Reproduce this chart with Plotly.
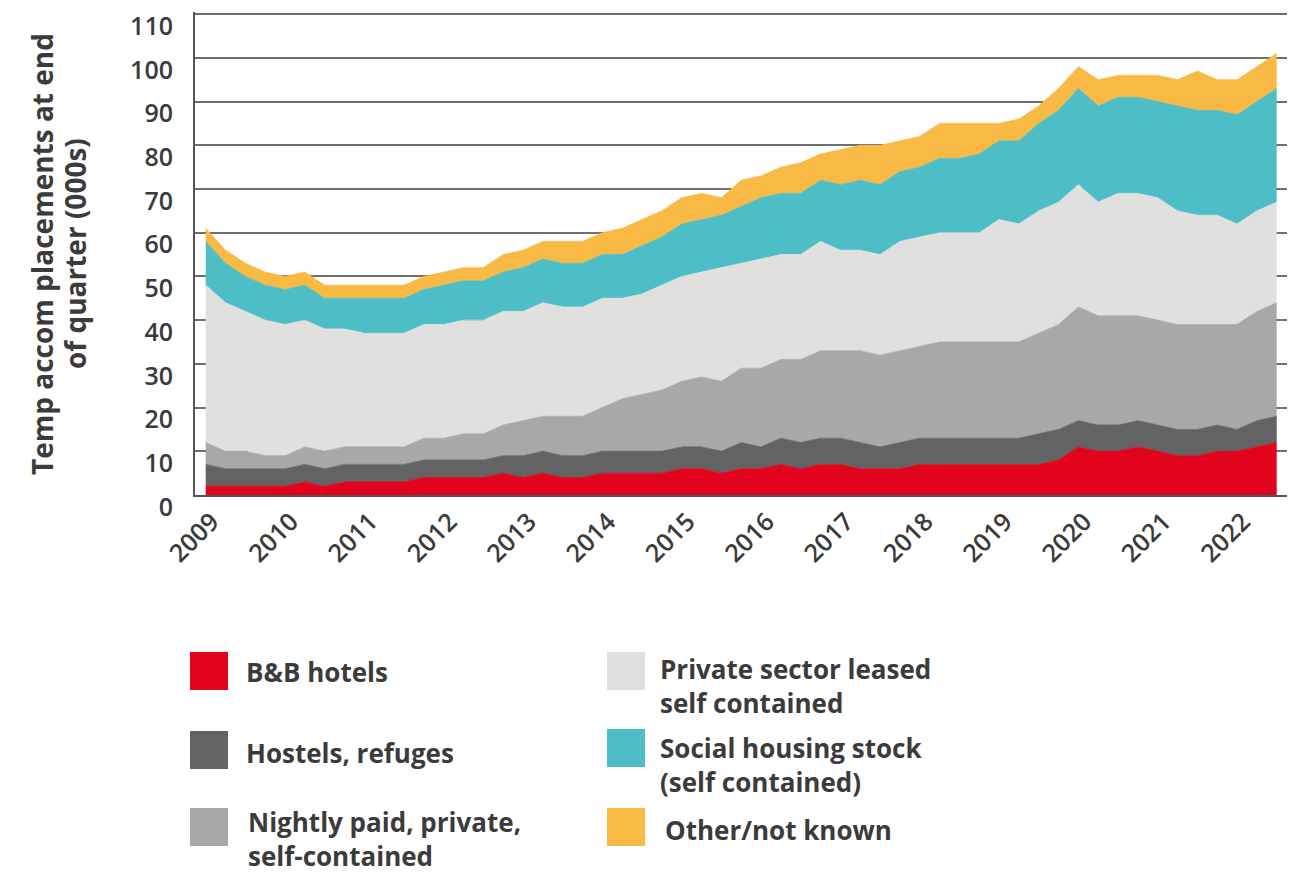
import plotly.graph_objects as go

# ---- data (thousands of placements, end of quarter) ----
years = list(range(2009, 2023))
quarters = [f"{y} Q{q}" for y in years for q in (1, 2, 3, 4)][:55]

bb_hotels = [2,2,2,2,2,3,2,3,3,3,3,4,4,4, 4,5,4,5,4,4,5,5,5,5,6,6,5,6,
             6,7,6,7,7,6,6,6,7,7,7,7,7, 7,7,8,11,10,10,11,10,9,9,10,10,11,12]
hostels = [5,4,4,4,4,4,4,4,4,4,4,4,4,4, 4,4,5,5,5,5,5,5,5,5,5,5,5,6,
           5,6,6,6,6,6,5,6,6,6,6,6,6, 6,7,7,6,6,6,6,6,6,6,6,5,6,6]
nightly_paid = [5,4,4,3,3,4,4,4,4,4,4,5,5,6, 6,7,8,8,9,9,10,12,13,14,15,16,16,17,
                18,18,19,20,20,21,21,21,21,22,22,22,22, 22,23,24,26,25,25,24,24,24,24,23,24,25,26]
private_leased = [36,34,32,31,30,29,28,27,26,26,26,26,26,26, 26,26,25,26,25,25,25,23,23,24,24,24,26,24,
                  25,24,24,25,23,23,23,25,25,25,25,25,28, 27,28,28,28,26,28,28,28,26,25,25,23,23,23]
social_housing = [10,9,8,8,8,8,7,7,8,8,8,8,9,9, 9,9,10,10,10,10,10,10,11,11,12,12,12,13,
                  14,14,14,14,15,16,16,16,16,17,17,18,18, 19,20,21,22,22,22,22,22,24,24,24,25,25,26]
other = [3,3,3,3,3,3,3,3,3,3,3,3,3,3, 3,4,4,4,5,5,5,6,6,6,6,6,4,6,
         5,6,7,6,8,8,9,7,7,8,8,7,4, 5,4,5,5,6,5,5,6,6,9,7,8,8,8]

series_names = ["B&B hotels", "Hostels, refuges", "Nightly paid, private,<br>self-contained",
                "Private sector leased<br>self contained", "Social housing stock<br>(self contained)",
                "Other/not known"]
series_values = [bb_hotels, hostels, nightly_paid, private_leased, social_housing, other]
series_colors = ["#E2031D", "#636363", "#A8A8A7", "#E0E0DF", "#4DBEC6", "#F9BA45"]

y_ticks = list(range(0, 111, 10))
year_ticks = [f"{y} Q1" for y in years]
year_labels = [str(y) for y in years]

# ---- geometry helpers (screen pixel -> paper); page has an 8px body margin ----
OFF = 8
W, H = 1299, 872
L, R, T, B = 187, 20, 4, 385
PW, PH = W - L - R, H - T - B
def px(xs):
    return (xs - OFF - L) / PW
def py(ys):
    return (H - B - (ys - OFF)) / PH

FONT = "Open Sans"
TXT = "#3b3b3b"
LEG_SIZE = 26

fig = go.Figure()
for name, vals, col in zip(series_names, series_values, series_colors):
    fig.add_trace(go.Scatter(
        x=quarters, y=vals, name=name.replace("<br>", " "), stackgroup="one",
        mode="lines", line=dict(width=0.8, color=col), fillcolor=col,
        showlegend=False, hoverinfo="x+y+name"))

# manual legend (two columns)
legend_pos = [(190, 671), (190, 750), (190, 827), (607, 671), (607, 748), (607, 827)]
text_pos = [(244, 670), (244, 751), (246, 820), (658, 667), (658, 746), (663, 828)]
shapes = []
annotations = []
for (sx, sy), (tx, ty), name, col in zip(legend_pos, text_pos, series_names, series_colors):
    shapes.append(dict(type="rect", xref="paper", yref="paper",
                       x0=px(sx), x1=px(sx + 38), y0=py(sy + 19), y1=py(sy - 19),
                       fillcolor=col, line=dict(width=0)))
    # anchor the text box so that its first line is centred on ty
    top = ty - 0.65 * LEG_SIZE - 1
    annotations.append(dict(xref="paper", yref="paper", x=px(tx), y=py(top),
                            xanchor="left", yanchor="top", align="left", showarrow=False,
                            text=name, font=dict(family=FONT, size=LEG_SIZE, color=TXT, weight="bold")))

# y-axis title (two lines, rotated)
for txt, xs in (("Temp accom placements at end", 42), ("of quarter (000s)", 75)):
    annotations.append(dict(xref="paper", yref="paper", x=px(xs), y=py(254),
                            xanchor="center", yanchor="middle", showarrow=False, textangle=-90,
                            text=txt, font=dict(family=FONT, size=28, color=TXT, weight="bold")))

fig.update_layout(
    width=W, height=H, margin=dict(l=L, r=R, t=T, b=B),
    paper_bgcolor="white", plot_bgcolor="white",
    showlegend=False, shapes=shapes, annotations=annotations,
    font=dict(family=FONT, color=TXT),
)
fig.update_xaxes(type="category", categoryorder="array", categoryarray=quarters,
                 range=[-0.54, 54.52], tickmode="array", tickvals=year_ticks, ticktext=year_labels,
                 tickangle=-45, tickfont=dict(family=FONT, size=25, color=TXT, weight=600),
                 ticklabelshift=6, automargin=False,
                 showgrid=False, showline=True, linecolor="#555555", linewidth=2,
                 ticks="", zeroline=False)
fig.update_yaxes(range=[0, 110.5], tickmode="array", tickvals=y_ticks,
                 tickfont=dict(family=FONT, size=25, color=TXT, weight=600),
                 showgrid=True, gridcolor="#707070", gridwidth=1.5,
                 showline=True, linecolor="#555555", linewidth=2, automargin=False,
                 ticks="", ticklabelstandoff=15, ticklabelshift=12,
                 ticklabeloverflow="allow", zeroline=False)

fig.write_html("out.html")
